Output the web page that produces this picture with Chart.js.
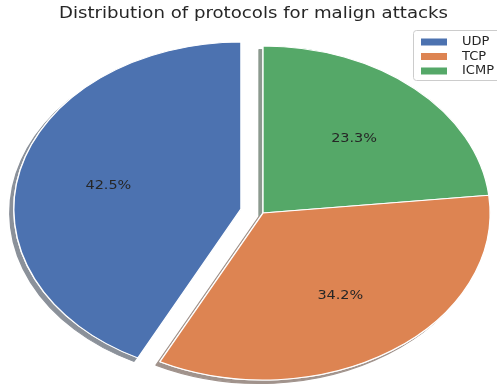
<!DOCTYPE html>
<html>
<head>
<meta charset="utf-8">
<script src="https://cdn.jsdelivr.net/npm/chart.js@4.4.0/dist/chart.umd.min.js"></script>
<style>
html, body { margin: 0; padding: 0; background: #fff; }
#wrap { width: 497px; height: 389px; }
</style>
</head>
<body>
<div id="wrap"><canvas id="protocolsChart" width="497" height="389"></canvas></div>
<script>
const chartTitle = "Distribution of protocols for malign attacks";
const protocols = ["UDP", "TCP", "ICMP"];
const shares = [42.5, 34.2, 23.3];
const colours = ["#4C72B0", "#DD8452", "#55A868"];
const exploded = [0.1, 0, 0];

// matplotlib draws counter-clockwise from the top, chart.js clockwise,
// so the dataset gets the slices in reverse order
const order = [2, 1, 0];

const textColour = "#262626";
const pieCenter = { x: 263, y: 213 };
const stretchX = 1.36;   // the original figure is squashed into an ellipse
const pieRadius = 167;

function shadowOf(hex) {
	const n = parseInt(hex.slice(1), 16);
	const rgb = [(n >> 16) & 255, (n >> 8) & 255, n & 255];
	const c = rgb.map((v) => Math.round((v * 0.3 + 255) / 2));
	return "rgb(" + c.join(",") + ")";
}

// text in the picture is a bit wider than it is tall
function wideText(ctx, text, x, y, sx) {
	ctx.save();
	ctx.translate(x, y);
	ctx.scale(sx, 1);
	ctx.fillText(text, 0, 0);
	ctx.restore();
}

const stretchedPie = {
	id: "stretchedPie",
	beforeDatasetDraw(chart, args) {
		const ctx = chart.ctx;
		const arcs = args.meta.data;
		const place = (arc, k) => {
			const mid = (arc.startAngle + arc.endAngle) / 2;
			const off = exploded[k] * pieRadius;
			ctx.translate(pieCenter.x, pieCenter.y);
			ctx.scale(stretchX, 1);
			ctx.translate(Math.cos(mid) * off, Math.sin(mid) * off);
			ctx.translate(-arc.x, -arc.y);
		};
		// first pass drops the shadows, second pass paints wedges on top
		[true, false].forEach((withShadow) => {
			arcs.forEach((arc, i) => {
				const k = order[i];
				ctx.save();
				place(arc, k);
				if (withShadow) {
					ctx.shadowColor = shadowOf(colours[k]);
					ctx.shadowOffsetX = -4;
					ctx.shadowOffsetY = 3.5;
					ctx.shadowBlur = 0;
				}
				arc.draw(ctx);
				ctx.restore();
			});
		});

		ctx.save();
		ctx.font = "13px 'DejaVu Sans'";
		ctx.fillStyle = textColour;
		ctx.textAlign = "center";
		ctx.textBaseline = "middle";
		arcs.forEach((arc, i) => {
			const k = order[i];
			const mid = (arc.startAngle + arc.endAngle) / 2;
			const d = (0.6 + exploded[k]) * pieRadius;
			const x = pieCenter.x + stretchX * d * Math.cos(mid);
			const y = pieCenter.y + d * Math.sin(mid);
			wideText(ctx, shares[k].toFixed(1) + "%", x, y, 1.11);
		});
		ctx.restore();
		return false;
	},
	afterDraw(chart) {
		const ctx = chart.ctx;
		ctx.save();
		ctx.fillStyle = textColour;
		ctx.font = "15px 'DejaVu Sans'";
		ctx.textAlign = "center";
		ctx.textBaseline = "middle";
		wideText(ctx, chartTitle, 253.5, 14.5, 1.21);

		ctx.beginPath();
		ctx.roundRect(413.5, 30.5, 90, 50, 3);
		ctx.fillStyle = "rgba(255,255,255,0.8)";
		ctx.fill();
		ctx.strokeStyle = "#cccccc";
		ctx.lineWidth = 1;
		ctx.stroke();
		ctx.font = "13px 'DejaVu Sans'";
		ctx.textAlign = "left";
		protocols.forEach((name, k) => {
			const y = 41.5 + k * 14.5;
			ctx.fillStyle = colours[k];
			ctx.fillRect(421, y - 3, 26, 7);
			ctx.fillStyle = textColour;
			ctx.fillText(name, 462, y + 0.5);
		});
		ctx.restore();
	},
};

const ctxPie = document.getElementById("protocolsChart").getContext("2d");

const protocolsChart = new Chart(ctxPie, {
	type: "pie",
	data: {
		labels: order.map((k) => protocols[k]),
		datasets: [
			{
				label: "Malign attacks",
				data: order.map((k) => shares[k]),
				backgroundColor: order.map((k) => colours[k]),
				borderColor: "#ffffff",
				borderWidth: 1,
				radius: pieRadius,
			},
		],
	},
	options: {
		responsive: false,
		animation: false,
		layout: { padding: { top: 37 } },
		plugins: {
			legend: { display: false },
			tooltip: { enabled: false },
			title: { display: false },
		},
	},
	plugins: [stretchedPie],
});
</script>
</body>
</html>
